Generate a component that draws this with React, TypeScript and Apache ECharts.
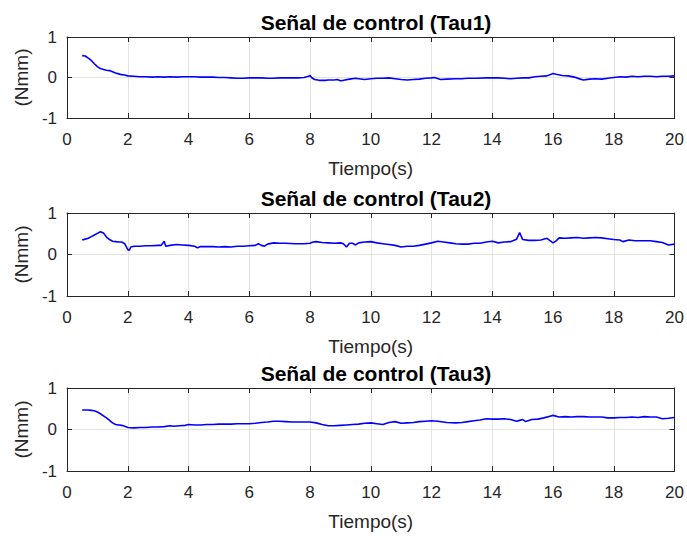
import React, { useEffect, useRef } from "react";
import * as echarts from "echarts";

const titles = ["Señal de control (Tau1)", "Señal de control (Tau2)", "Señal de control (Tau3)"];
const xLabel = "Tiempo(s)";
const yLabel = "(Nmm)";
const xTicks = [0, 2, 4, 6, 8, 10, 12, 14, 16, 18, 20];
const yTicks = [-1, 0, 1];

const tau1: number[][] = [
  [0.5, 0.54], [0.6, 0.53], [0.7, 0.48], [0.8, 0.42], [0.9, 0.34], [1.0, 0.27], [1.1, 0.22], [1.2, 0.2], [1.3, 0.18], [1.4, 0.17],
  [1.5, 0.14], [1.6, 0.11], [1.7, 0.09], [1.8, 0.07], [1.9, 0.06], [2.0, 0.04], [2.2, 0.03], [2.4, 0.02], [2.6, 0.02], [2.8, 0.01],
  [3.0, 0.02], [3.2, 0.01], [3.4, 0.02], [3.6, 0.01], [3.8, 0.02], [4.0, 0.02], [4.2, 0.02], [4.4, 0.01], [4.6, 0.01], [4.8, 0.01],
  [5.0, 0.0], [5.2, 0.0], [5.4, -0.01], [5.6, -0.02], [5.8, -0.02], [6.0, -0.01], [6.2, -0.01], [6.4, -0.01], [6.6, -0.02], [6.8, -0.02],
  [7.0, -0.01], [7.2, -0.01], [7.4, -0.01], [7.6, -0.01], [7.8, 0.0], [7.95, 0.03], [8.0, 0.05], [8.05, 0.0], [8.15, -0.05], [8.3, -0.07],
  [8.5, -0.07], [8.6, -0.06], [8.8, -0.06], [8.9, -0.05], [9.0, -0.08], [9.1, -0.07], [9.3, -0.04], [9.5, -0.02], [9.6, -0.03], [9.8, -0.05],
  [10.0, -0.03], [10.2, -0.02], [10.4, -0.02], [10.6, -0.01], [10.8, -0.03], [11.0, -0.05], [11.2, -0.06], [11.4, -0.05], [11.6, -0.04], [11.8, -0.02],
  [12.0, -0.01], [12.1, 0.0], [12.3, -0.05], [12.5, -0.04], [12.8, -0.03], [13.0, -0.03], [13.2, -0.02], [13.5, -0.02], [13.8, -0.01], [14.0, -0.01],
  [14.2, -0.01], [14.4, -0.02], [14.6, -0.03], [14.8, -0.02], [15.0, -0.01], [15.2, -0.01], [15.4, 0.02], [15.6, 0.03], [15.8, 0.04], [16.0, 0.1],
  [16.1, 0.08], [16.3, 0.05], [16.5, 0.04], [16.7, 0.01], [16.9, -0.04], [17.0, -0.06], [17.2, -0.04], [17.4, -0.03], [17.6, -0.04], [17.8, -0.02],
  [18.0, 0.0], [18.2, 0.02], [18.4, 0.01], [18.6, 0.03], [18.8, 0.02], [19.0, 0.03], [19.2, 0.03], [19.4, 0.02], [19.6, 0.03], [19.8, 0.03], [20.0, 0.04],
];

const tau2: number[][] = [
  [0.5, 0.35], [0.6, 0.37], [0.7, 0.39], [0.8, 0.43], [0.9, 0.47], [1.0, 0.51], [1.1, 0.55], [1.2, 0.52], [1.3, 0.42], [1.4, 0.36],
  [1.5, 0.32], [1.6, 0.31], [1.7, 0.3], [1.8, 0.3], [1.9, 0.26], [2.0, 0.12], [2.05, 0.1], [2.1, 0.18], [2.2, 0.2], [2.4, 0.2],
  [2.6, 0.21], [2.8, 0.21], [3.0, 0.22], [3.1, 0.22], [3.2, 0.32], [3.25, 0.2], [3.4, 0.22], [3.6, 0.24], [3.8, 0.23], [4.0, 0.22],
  [4.2, 0.2], [4.3, 0.16], [4.4, 0.19], [4.6, 0.19], [4.8, 0.19], [5.0, 0.18], [5.2, 0.19], [5.4, 0.18], [5.6, 0.2], [5.8, 0.2],
  [6.0, 0.21], [6.2, 0.22], [6.3, 0.26], [6.4, 0.22], [6.5, 0.2], [6.6, 0.25], [6.8, 0.28], [7.0, 0.27], [7.2, 0.27], [7.5, 0.26],
  [7.8, 0.26], [8.0, 0.27], [8.1, 0.3], [8.2, 0.31], [8.4, 0.29], [8.6, 0.28], [8.8, 0.27], [9.0, 0.28], [9.1, 0.26], [9.2, 0.18],
  [9.3, 0.27], [9.4, 0.27], [9.5, 0.23], [9.6, 0.28], [9.8, 0.3], [10.0, 0.31], [10.2, 0.28], [10.4, 0.26], [10.6, 0.24], [10.8, 0.22],
  [11.0, 0.18], [11.2, 0.2], [11.4, 0.2], [11.6, 0.22], [11.8, 0.25], [12.0, 0.28], [12.2, 0.32], [12.4, 0.3], [12.6, 0.28], [12.8, 0.26],
  [13.0, 0.25], [13.2, 0.25], [13.4, 0.27], [13.6, 0.27], [13.8, 0.3], [14.0, 0.32], [14.2, 0.28], [14.4, 0.3], [14.6, 0.31], [14.8, 0.37],
  [14.9, 0.53], [15.0, 0.36], [15.2, 0.34], [15.4, 0.34], [15.6, 0.35], [15.8, 0.39], [16.0, 0.28], [16.1, 0.33], [16.2, 0.4], [16.4, 0.39],
  [16.6, 0.4], [16.8, 0.41], [17.0, 0.39], [17.2, 0.4], [17.4, 0.41], [17.6, 0.4], [17.8, 0.38], [18.0, 0.36], [18.2, 0.35], [18.3, 0.31],
  [18.5, 0.35], [18.7, 0.33], [19.0, 0.33], [19.2, 0.33], [19.4, 0.31], [19.6, 0.29], [19.8, 0.23], [20.0, 0.25],
];

const tau3: number[][] = [
  [0.5, 0.47], [0.6, 0.47], [0.7, 0.47], [0.8, 0.46], [0.9, 0.45], [1.0, 0.42], [1.1, 0.38], [1.2, 0.33], [1.3, 0.28], [1.4, 0.22],
  [1.5, 0.16], [1.6, 0.12], [1.7, 0.11], [1.8, 0.1], [1.9, 0.08], [2.0, 0.05], [2.2, 0.04], [2.4, 0.05], [2.6, 0.05], [2.8, 0.06],
  [3.0, 0.06], [3.2, 0.07], [3.4, 0.09], [3.5, 0.08], [3.7, 0.09], [3.9, 0.1], [4.0, 0.12], [4.2, 0.11], [4.4, 0.11], [4.6, 0.12],
  [4.8, 0.12], [5.0, 0.13], [5.2, 0.13], [5.4, 0.13], [5.6, 0.14], [5.8, 0.14], [6.0, 0.14], [6.2, 0.15], [6.4, 0.17], [6.6, 0.18],
  [6.8, 0.2], [7.0, 0.2], [7.2, 0.19], [7.4, 0.18], [7.6, 0.18], [7.8, 0.18], [8.0, 0.18], [8.2, 0.16], [8.4, 0.12], [8.6, 0.09],
  [8.8, 0.09], [9.0, 0.1], [9.2, 0.11], [9.4, 0.12], [9.6, 0.13], [9.8, 0.15], [10.0, 0.16], [10.2, 0.14], [10.4, 0.12], [10.6, 0.17],
  [10.8, 0.19], [11.0, 0.15], [11.2, 0.16], [11.4, 0.17], [11.6, 0.19], [11.8, 0.2], [12.0, 0.21], [12.2, 0.2], [12.5, 0.17], [12.8, 0.16],
  [13.0, 0.17], [13.2, 0.19], [13.4, 0.21], [13.6, 0.23], [13.8, 0.26], [14.0, 0.25], [14.2, 0.25], [14.4, 0.26], [14.6, 0.24], [14.8, 0.2],
  [14.9, 0.22], [15.0, 0.24], [15.1, 0.19], [15.3, 0.24], [15.5, 0.25], [15.7, 0.28], [15.9, 0.32], [16.0, 0.34], [16.2, 0.3], [16.4, 0.31],
  [16.6, 0.3], [16.8, 0.31], [17.0, 0.31], [17.2, 0.3], [17.4, 0.3], [17.6, 0.3], [17.8, 0.28], [18.0, 0.28], [18.2, 0.29], [18.4, 0.29],
  [18.6, 0.3], [18.8, 0.29], [19.0, 0.31], [19.2, 0.3], [19.4, 0.3], [19.6, 0.26], [19.8, 0.27], [20.0, 0.29],
];

const seriesData = [tau1, tau2, tau3];

const FONT = "'Liberation Sans', Arial, Helvetica, sans-serif";
const AXIS_COLOR = "#262626";
const GRID_COLOR = "#e3e3e3";

export default function App() {
  const ref = useRef<HTMLDivElement>(null);

  useEffect(() => {
    if (!ref.current) return;
    const chart = echarts.init(ref.current, null, { renderer: "svg" });

    const gridTops = [37, 213, 388];
    const gridHeights = [81, 83, 83];
    const grids = gridTops.map((top, i) => ({ left: 67, right: 12, top, height: gridHeights[i], containLabel: false }));

    const xAxes: any[] = [];
    const yAxes: any[] = [];
    const series: any[] = [];
    const titleOpts: any[] = [];

    gridTops.forEach((top, i) => {
      xAxes.push({
        type: "value", gridIndex: i, position: "bottom", min: xTicks[0], max: xTicks[xTicks.length - 1], interval: 2,
        axisLine: { show: true, onZero: false, lineStyle: { color: AXIS_COLOR, width: 1 } },
        axisTick: { show: true, inside: true, length: 5, lineStyle: { color: AXIS_COLOR } },
        axisLabel: { show: true, color: AXIS_COLOR, fontSize: 17, fontFamily: FONT, margin: 13 },
        splitLine: { show: true, lineStyle: { color: GRID_COLOR, width: 1 } },
        name: xLabel, nameLocation: "middle", nameGap: 41,
        nameTextStyle: { color: AXIS_COLOR, fontSize: 19, fontFamily: FONT },
      });
      xAxes.push({
        type: "value", gridIndex: i, position: "top", min: xTicks[0], max: xTicks[xTicks.length - 1], interval: 2,
        axisLine: { show: true, onZero: false, lineStyle: { color: AXIS_COLOR, width: 1 } },
        axisTick: { show: true, inside: true, length: 5, lineStyle: { color: AXIS_COLOR } },
        axisLabel: { show: false }, splitLine: { show: false },
      });
      yAxes.push({
        type: "value", gridIndex: i, position: "left", min: yTicks[0], max: yTicks[yTicks.length - 1], interval: 1,
        axisLine: { show: true, onZero: false, lineStyle: { color: AXIS_COLOR, width: 1 } },
        axisTick: { show: true, inside: true, length: 5, lineStyle: { color: AXIS_COLOR } },
        axisLabel: { show: true, color: AXIS_COLOR, fontSize: 17, fontFamily: FONT, margin: 10 },
        splitLine: { show: true, lineStyle: { color: GRID_COLOR, width: 1 } },
        name: yLabel, nameLocation: "middle", nameGap: 30, nameRotate: 90,
        nameTextStyle: { color: AXIS_COLOR, fontSize: 19, fontFamily: FONT },
      });
      yAxes.push({
        type: "value", gridIndex: i, position: "right", min: yTicks[0], max: yTicks[yTicks.length - 1], interval: 1,
        axisLine: { show: true, onZero: false, lineStyle: { color: AXIS_COLOR, width: 1 } },
        axisTick: { show: true, inside: true, length: 5, lineStyle: { color: AXIS_COLOR } },
        axisLabel: { show: false }, splitLine: { show: false },
      });
      series.push({
        type: "line", xAxisIndex: i * 2, yAxisIndex: i * 2, data: seriesData[i], showSymbol: false, symbol: "none",
        lineStyle: { color: "#0000ff", width: 1.6 }, z: 5,
      });
      titleOpts.push({
        text: titles[i], left: 371, top: top - 30, textAlign: "center",
        textStyle: { color: "#000000", fontSize: 21, fontWeight: "bold", fontFamily: FONT },
      });
    });

    chart.setOption({
      animation: false,
      backgroundColor: "#ffffff",
      title: titleOpts,
      grid: grids,
      xAxis: xAxes,
      yAxis: yAxes,
      series,
    });

    return () => chart.dispose();
  }, []);

  return <div ref={ref} style={{ width: 687, height: 536, position: "absolute", left: 0, top: 0 }} />;
}
